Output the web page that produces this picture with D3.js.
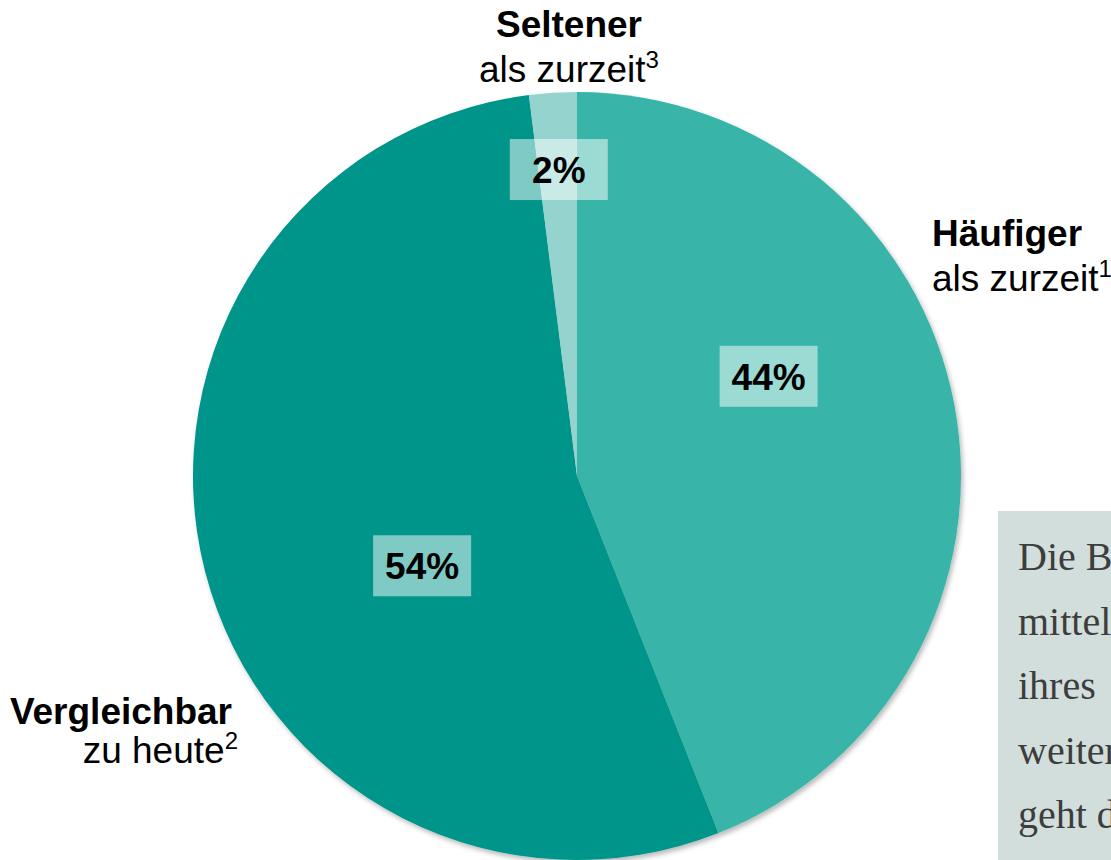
<!DOCTYPE html>
<html>
<head>
<meta charset="utf-8">
<script src="https://cdn.jsdelivr.net/npm/d3@7"></script>
<style>
  html, body { margin: 0; padding: 0; background: #fff; overflow: hidden; }
  svg { display: block; }
  .lbl { font-family: Arial, "Liberation Sans", Helvetica, sans-serif; fill: #000; }
  .note { font-family: "Liberation Serif", "Times New Roman", serif; fill: #3d3d3d; font-size: 40px; }
</style>
</head>
<body>
<div id="chart"></div>
<script>
// data
var categories = ["Häufiger", "Vergleichbar", "Seltener"];
var subLabels  = ["als zurzeit", "zu heute", "als zurzeit"];
var footnotes  = ["1", "2", "3"];
var values     = [44, 54, 2];
var colors     = ["#38b4a9", "#06958a", "#95d4ce"];
var noteLines  = ["Die Befragten", "mittelfristig", "ihres", "weiteren", "geht davon"];

var W = 1111, H = 860;
var cx = 577, cy = 476, R = 384;

var svg = d3.select("#chart").append("svg").attr("width", W).attr("height", H);

var defs = svg.append("defs");
var f = defs.append("filter").attr("id", "shadow")
  .attr("x", "-10%").attr("y", "-10%").attr("width", "120%").attr("height", "120%");
f.append("feDropShadow").attr("dx", 2).attr("dy", 3).attr("stdDeviation", 2.5)
  .attr("flood-color", "#000").attr("flood-opacity", 0.28);

var pie = d3.pie().sort(null).value(function(d){ return d; });
var arcs = pie(values);
var arc = d3.arc().innerRadius(0).outerRadius(R);

var g = svg.append("g").attr("transform", "translate(" + cx + "," + cy + ")");

g.append("g").attr("filter", "url(#shadow)")
  .selectAll("path").data(arcs).enter().append("path")
  .attr("d", arc)
  .attr("fill", function(d, i){ return colors[i]; });

// percentage boxes (angle in degrees from top, radius from centre)
var boxPos = [[62.5, 216], [239.9, 179], [-3.4, 307]];
var bw = 98, bh = 61;
var lab = g.selectAll("g.pct").data(arcs).enter().append("g").attr("class", "pct")
  .attr("transform", function(d, i){
    var a = boxPos[i][0] * Math.PI / 180, r = boxPos[i][1];
    return "translate(" + (r * Math.sin(a)) + "," + (-r * Math.cos(a)) + ")";
  });
lab.append("rect").attr("x", -bw/2).attr("y", -bh/2).attr("width", bw).attr("height", bh)
  .attr("fill", "#fff").attr("fill-opacity", 0.5);
lab.append("text").attr("class", "lbl")
  .attr("text-anchor", "middle").attr("dy", "0.36em")
  .style("font-size", "37px").style("font-weight", "bold")
  .text(function(d){ return d.value + "%"; });

// category labels
var catPos = [
  {x: 932, y1: 246, y2: 291, anchor: "start"},
  {x: 238, y1: 724, y2: 763, anchor: "end"},
  {x: 569, y1: 37, y2: 82, anchor: "middle"}
];
categories.forEach(function(c, i){
  var p = catPos[i];
  svg.append("text").attr("class", "lbl")
    .attr("x", i === 1 ? p.x - 6 : p.x).attr("y", p.y1).attr("text-anchor", p.anchor)
    .style("font-size", "37px").style("font-weight", "bold").text(c);
  var t = svg.append("text").attr("class", "lbl")
    .attr("x", p.x).attr("y", p.y2).attr("text-anchor", p.anchor)
    .style("font-size", "37px");
  t.append("tspan").text(subLabels[i]);
  t.append("tspan").attr("dy", -14).style("font-size", "24px").text(footnotes[i]);
});

// note box at right (clipped by the page edge)
svg.append("rect").attr("x", 998).attr("y", 511).attr("width", 200).attr("height", 400)
  .attr("fill", "#d2dedc");
var ny = d3.scaleLinear().domain([0, noteLines.length - 1]).range([570, 828]);
svg.selectAll("text.note").data(noteLines).enter().append("text").attr("class", "note")
  .attr("x", 1018).attr("y", function(d, i){ return ny(i); })
  .text(function(d){ return d; });
</script>
</body>
</html>
